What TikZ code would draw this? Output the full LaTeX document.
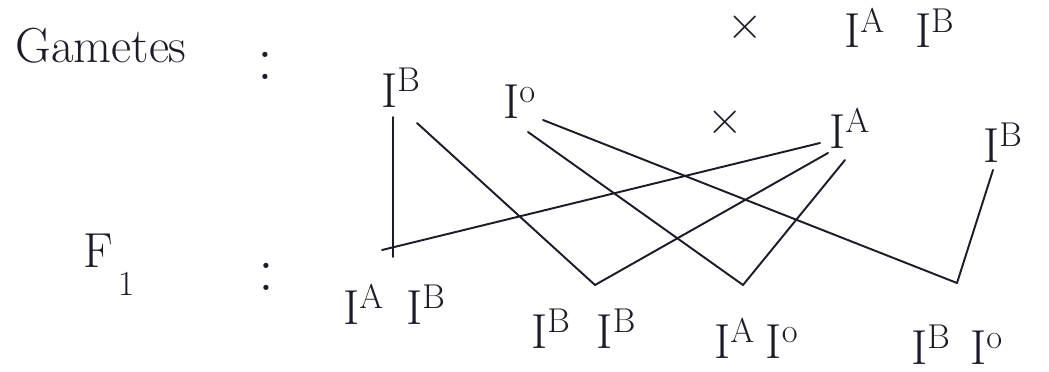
\documentclass[tikz,border=0pt]{standalone}
\usepackage{tikz}
\definecolor{ink}{HTML}{1C1C28}
\newcommand{\al}[1]{I\textsuperscript{#1}}
\newcommand{\gt}[3][10pt]{\al{#2}\kern#1\al{#3}}

\begin{document}
\begin{tikzpicture}[x=.02cm,y=-.02cm,
  every node/.style={inner sep=0pt,text=ink,font=\fontsize{28}{32}\selectfont},
  allele/.style={anchor=base west},
  sep/.style={font=\fontsize{36}{40}\selectfont},
  link/.style={ink,line width=1.1pt,line cap=round}]
  \useasboundingbox[fill=white] (0,0) rectangle (1049,372);
  \node[allele] (lblG) at (15,62) {Gametes};
  \node[sep] (colG) at (265,66) {:};
  \node (xTop) at (745,28) {×};
  \node[allele] (par) at (844,48) {\gt[17pt]{A}{B}};
  \node[allele] (gB) at (381,107) {\al{B}};
  \node[allele] (gO) at (503,118) {\al{o}};
  \node (xMid) at (725,123) {×};
  \node[allele] (gA) at (829,148) {\al{A}};
  \node[allele] (gB2) at (983,162) {\al{B}};
  \node[allele] (lblF) at (83,267) {F\kern3pt\raisebox{-16pt}{\fontsize{20}{20}\selectfont 1}};
  \node[sep] (colF) at (266,277) {:};
  \node[allele] (fAB) at (343,324) {\gt[12.5pt]{A}{B}};
  \node[allele] (fBB) at (531,348) {\gt[14.7pt]{B}{B}};
  \node[allele] (fAO) at (714,358) {\gt[6pt]{A}{o}};
  \node[allele] (fBO) at (911,364) {\gt[11pt]{B}{o}};
  \coordinate (jAB) at (393,257);
  \coordinate (jBB) at (595,285);
  \coordinate (jAO) at (743,285);
  \coordinate (jBO) at (957,283);
  \draw[link] ([shift={(12,10)}]gB.base west) -- (jAB);
  \draw[link] ([shift={(-9,-5)}]gA.base west) -- ([shift={(-11,-7)}]jAB);
  \draw[link] ([shift={(36,16)}]gB.base west) -- (jBB);
  \draw[link] ([shift={(-1,5)}]gA.base west) -- (jBB);
  \draw[link] ([shift={(25,14)}]gO.base west) -- (jAO);
  \draw[link] ([shift={(16,12)}]gA.base west) -- (jAO);
  \draw[link] ([shift={(40,2)}]gO.base west) -- (jBO);
  \draw[link] ([shift={(10,8)}]gB2.base west) -- (jBO);
\end{tikzpicture}
\end{document}
